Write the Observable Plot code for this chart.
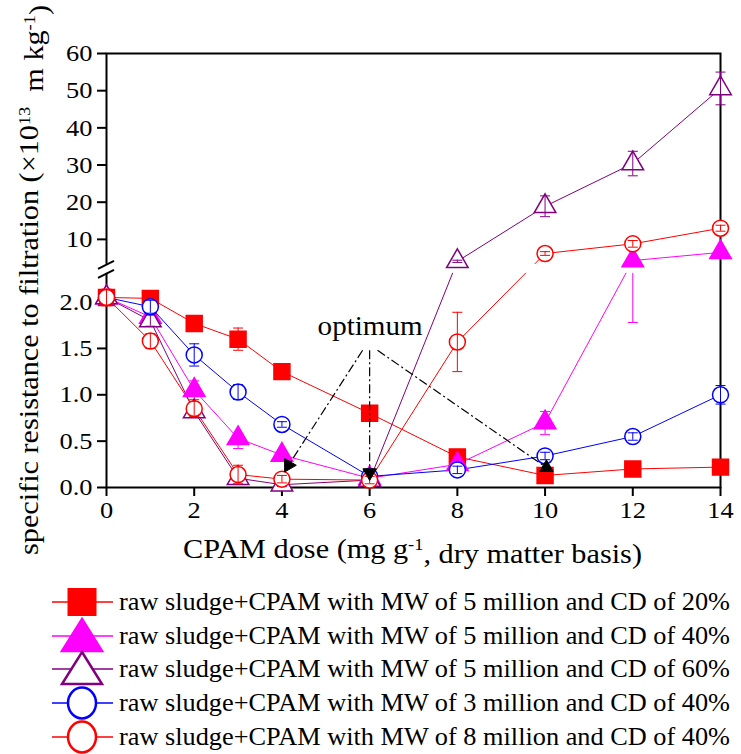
<!DOCTYPE html>
<html><head><meta charset="utf-8">
<script src="https://cdn.jsdelivr.net/npm/d3@7"></script>
<script src="https://cdn.jsdelivr.net/npm/@observablehq/plot@0.6"></script>
<style>
body{margin:0;background:#fff;font-family:"Liberation Serif",serif;}
#chart svg, #legend svg{display:block;}
</style>
</head><body><div id="chart"></div><div id="legend"></div>
<script>
// ---------- data ----------
const dose = [0, 1, 2, 3, 4, 6, 8, 10, 12, 14];
const seriesLabels = [
  "raw sludge+CPAM with MW of 5 million and CD of 20%",
  "raw sludge+CPAM with MW of 5 million and CD of 40%",
  "raw sludge+CPAM with MW of 5 million and CD of 60%",
  "raw sludge+CPAM with MW of 3 million and CD of 40%",
  "raw sludge+CPAM with MW of 8 million and CD of 40%"
];
const srfMW5CD20 = [2.05, 2.04, 1.77, 1.60, 1.25, 0.80, 0.33, 0.13, 0.20, 0.22];
const errUpMW5CD20 = [0, 0, 0, 0.12, 0, 0, 0, 0, 0, 0];
const errDnMW5CD20 = [0, 0, 0, 0.12, 0, 0, 0, 0, 0, 0];
const srfMW5CD40 = [2.05, 1.84, 1.05, 0.53, 0.35, 0.10, 0.25, 0.70, 4.3, 6.5];
const errUpMW5CD40 = [0.05, 0.05, 0.10, 0.05, 0.03, 0.02, 0.03, 0.12, 0, 0.5];
const errDnMW5CD40 = [0.05, 0.05, 0.10, 0.11, 0.03, 0.02, 0.03, 0.13, 2.52, 0.5];
const srfMW5CD60 = [2.05, 1.80, 0.82, 0.10, 0.03, 0.08, 4.1, 18.9, 30.4, 50.6];
const errMW5CD60 = [0.05, 0.06, 0.06, 0.03, 0.02, 0.02, 0.3, 2.8, 3.3, 4.4];
const srfMW3CD40 = [2.05, 1.95, 1.43, 1.03, 0.68, 0.12, 0.19, 0.34, 0.55, 1.00];
const errMW3CD40 = [0.03, 0.07, 0.12, 0.08, 0.03, 0.03, 0.04, 0.04, 0.04, 0.10];
const srfMW8CD40 = [2.05, 1.58, 0.85, 0.14, 0.09, 0.08, 1.57, 6.2, 8.8, 13.0];
const errMW8CD40 = [0.09, 0.08, 0.08, 0.10, 0.04, 0.04, 0.32, 0.5, 0.9, 0.8];

const xTicks = [0, 2, 4, 6, 8, 10, 12, 14];
const lowerTicks = [0, 0.5, 1, 1.5, 2];
const lowerTickLabels = ["0.0", "0.5", "1.0", "1.5", "2.0"];
const upperTicks = [10, 20, 30, 40, 50, 60];
const upperTickLabels = ["10", "20", "30", "40", "50", "60"];

// optimum annotation
const optimumLabel = "optimum";
const optimumDose = [4.15, 6, 10.03];
const optimumSrf = [0.24, 0.16, 0.215];
const optimumArrowFromDose = [5.84, 6, 6.18];
const optimumArrowFromSrf = [1.48, 1.48, 1.48];
const optimumArrowRotate = [90, 180, 0];
const optimumTextDose = 6.01;
const optimumTextSrf = 1.74;

// ---------- broken axis mapping ----------
const LOW_TOP = 2.31, UP_BOTTOM = 3.28, GAP = 0.097, K = 0.0401;
function yT(v) {
  if (v <= LOW_TOP) return v;
  if (v >= UP_BOTTOM) return LOW_TOP + GAP + (v - UP_BOTTOM) * K;
  return LOW_TOP + (v - LOW_TOP) / (UP_BOTTOM - LOW_TOP) * GAP;
}

const FONT = '"Liberation Serif", serif';
const colors = ["#ff0000", "#ff00ff", "#800080", "#0000ff", "#ff0000"];
const symbols = ["square", "triangle", "triangle", "circle", "circle"];
const filled = [true, true, false, false, false];
const radii = [9, 8, 8, 8, 8];

const series = [
  {y: srfMW5CD20, up: errUpMW5CD20, dn: errDnMW5CD20},
  {y: srfMW5CD40, up: errUpMW5CD40, dn: errDnMW5CD40},
  {y: srfMW5CD60, up: errMW5CD60, dn: errMW5CD60},
  {y: srfMW3CD40, up: errMW3CD40, dn: errMW3CD40},
  {y: srfMW8CD40, up: errMW8CD40, dn: errMW8CD40}
].map((s, si) => dose.map((d, i) => ({
  si, x: d, v: s.y[i], lo: s.y[i] - s.dn[i], hi: s.y[i] + s.up[i], up: s.up[i], dn: s.dn[i]
})));

// error segments that skip the break band
function segments(rows) {
  const out = [];
  for (const r of rows) {
    if (r.up <= 0 && r.dn <= 0) continue;
    if (r.lo < LOW_TOP && r.hi > UP_BOTTOM) {
      out.push({x: r.x, a: r.lo, b: LOW_TOP});
      out.push({x: r.x, a: UP_BOTTOM, b: r.hi});
    } else out.push({x: r.x, a: r.lo, b: r.hi});
  }
  return out;
}
const capSymbol = {draw(ctx) { ctx.moveTo(-5, 0); ctx.lineTo(5, 0); }};

const tickLabel = new Map();
lowerTicks.forEach((t, i) => tickLabel.set(yT(t), lowerTickLabels[i]));
upperTicks.forEach((t, i) => tickLabel.set(yT(t), upperTickLabels[i]));
const yTickVals = [...lowerTicks, ...upperTicks].map(yT);

const marks = [];
series.forEach((rows, si) => {
  marks.push(Plot.line(rows, {x: "x", y: d => yT(d.v), stroke: colors[si], strokeWidth: 1}));
});
marks.push(Plot.frame({stroke: "#000", strokeWidth: 2}));
// white break band
marks.push(Plot.rect([0], {x1: () => -0.12, x2: () => 13.97, y1: () => LOW_TOP, y2: () => yT(UP_BOTTOM), fill: "#fff"}));
series.forEach((rows, si) => {
  marks.push(Plot.dot(rows, {x: "x", y: d => yT(d.v), symbol: () => symbols[si], r: radii[si],
    fill: filled[si] ? colors[si] : "#fff", stroke: colors[si], strokeWidth: 1.5}));
  const segs = segments(rows);
  marks.push(Plot.ruleX(segs, {x: "x", y1: d => yT(d.a), y2: d => yT(d.b), stroke: colors[si], strokeWidth: 1}));
  marks.push(Plot.dot(rows.filter(r => r.up > 0), {x: "x", y: d => yT(d.hi), symbol: capSymbol, r: 3, fill: "none", stroke: colors[si], strokeWidth: 1}));
  marks.push(Plot.dot(rows.filter(r => r.dn > 0), {x: "x", y: d => yT(d.lo), symbol: capSymbol, r: 3, fill: "none", stroke: colors[si], strokeWidth: 1}));
});
const opt = optimumDose.map((d, i) => ({x1: optimumArrowFromDose[i], y1: optimumArrowFromSrf[i], x2: d, y2: optimumSrf[i], rot: optimumArrowRotate[i]}));
marks.push(Plot.link(opt, {x1: "x1", y1: d => yT(d.y1), x2: "x2", y2: d => yT(d.y2), stroke: "#000", strokeWidth: 1.2, strokeDasharray: "9,3,2,3"}));
marks.push(Plot.dot(opt, {x: "x2", y: d => yT(d.y2), symbol: "triangle", rotate: "rot", r: 5, fill: "#000", stroke: "#000", strokeWidth: 1}));
marks.push(Plot.text([optimumLabel], {x: () => optimumTextDose, y: () => yT(optimumTextSrf), text: d => d, fontSize: 28, fill: "#000", textAnchor: "middle", lineAnchor: "middle"}));

const chart = Plot.plot({
  width: 741, height: 575,
  marginLeft: 106, marginRight: 21, marginTop: 53, marginBottom: 88,
  style: {fontFamily: FONT, fontSize: "24px", color: "#000", background: "#fff", overflow: "visible"},
  x: {domain: [0, 14], ticks: xTicks, tickSize: 9, tickPadding: 4, tickFormat: d => String(d), label: null},
  y: {domain: [0, yT(60)], ticks: yTickVals, tickSize: 9, tickPadding: 5,
      tickFormat: d => tickLabel.has(d) ? tickLabel.get(d) : "", label: null},
  marks
});
document.getElementById("chart").appendChild(chart);

const svg = d3.select(chart);
svg.selectAll("g[aria-label$='axis'] line, g[aria-label$='axis'] path, g[aria-label$='tick'] path, g[aria-label$='tick'] line")
  .attr("stroke-width", 2).attr("stroke", "#000");
svg.selectAll("text").style("font-family", FONT);
// tick labels slightly wider, as in the reference
svg.selectAll("g[aria-label$='axis'] text, g[aria-label$='tick label'] text").attr("fill", "#000").each(function() {
  const w = this.getComputedTextLength();
  if (w > 0) { this.setAttribute("textLength", (w * 1.1).toFixed(1)); this.setAttribute("lengthAdjust", "spacingAndGlyphs"); }
});

// break marks on left axis
const ys = chart.scale("y"), xs = chart.scale("x");
const x0 = xs.apply(0);
[ys.apply(yT(UP_BOTTOM)) + 1, ys.apply(LOW_TOP) + 1].forEach(yy => {
  svg.append("line").attr("x1", x0 - 8).attr("y1", yy + 4).attr("x2", x0 + 8).attr("y2", yy - 4)
    .attr("stroke", "#000").attr("stroke-width", 2);
});

// optimum text stretch
svg.selectAll("g[aria-label='text'] text").attr("textLength", 105).attr("lengthAdjust", "spacingAndGlyphs");

// axis titles
const xt = svg.append("text").attr("x", 412.5).attr("y", 558).attr("text-anchor", "middle").style("font-family", FONT)
  .attr("font-size", 28).attr("fill", "#000").attr("textLength", 459).attr("lengthAdjust", "spacingAndGlyphs");
xt.append("tspan").text("CPAM dose (mg g");
xt.append("tspan").attr("dy", "-0.45em").attr("font-size", "17").text("-1");
xt.append("tspan").attr("dy", "0.45em").text(", dry matter basis)");

const yt = svg.append("text").attr("transform", "translate(38,280) rotate(-90)").attr("text-anchor", "middle").style("font-family", FONT)
  .attr("font-size", 28).attr("fill", "#000").attr("textLength", 550).attr("lengthAdjust", "spacingAndGlyphs");
yt.append("tspan").text("specific resistance to filtration (\u00d710");
yt.append("tspan").attr("dy", "-0.45em").attr("font-size", "17").text("13");
yt.append("tspan").attr("dy", "0.45em").text("\u00a0 m kg");
yt.append("tspan").attr("dy", "-0.45em").attr("font-size", "17").text("-1");
yt.append("tspan").attr("dy", "0.45em").text(")");

// ---------- legend ----------
const leg = d3.select("#legend").append("svg").attr("width", 741).attr("height", 179);
const rowY = [27, 61, 94, 128, 162];
seriesLabels.forEach((lab, i) => {
  const g = leg.append("g").attr("transform", `translate(0,${rowY[i]})`);
  g.append("line").attr("x1", 52).attr("x2", 113).attr("y1", 0).attr("y2", 0).attr("stroke", colors[i]).attr("stroke-width", 1.5);
  const cx = 82;
  if (symbols[i] === "square") {
    g.append("rect").attr("x", cx - 14).attr("y", -13.5).attr("width", 28).attr("height", 27).attr("fill", colors[i]).attr("stroke", colors[i]);
  } else if (symbols[i] === "triangle") {
    g.append("path").attr("d", `M${cx},-17L${cx + 20},15L${cx - 20},15Z`)
      .attr("fill", filled[i] ? colors[i] : "#fff").attr("stroke", colors[i]).attr("stroke-width", 2.5);
  } else {
    g.append("ellipse").attr("cx", cx).attr("cy", 0).attr("rx", 14).attr("ry", 15.5)
      .attr("fill", "#fff").attr("stroke", colors[i]).attr("stroke-width", 2.5);
  }
  g.append("text").attr("x", 119).attr("y", 8).attr("font-size", 25).attr("fill", "#000").style("font-family", FONT)
    .attr("textLength", 611).attr("lengthAdjust", "spacingAndGlyphs").text(lab);
});
</script>
</body></html>
